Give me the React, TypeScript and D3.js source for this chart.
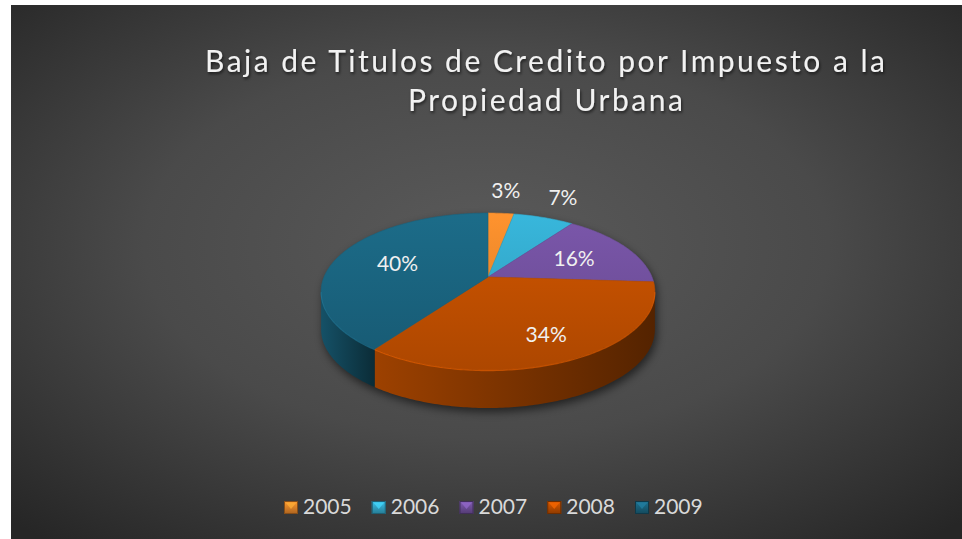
import React from "react";
import * as d3 from "d3";

const categories = ["2005", "2006", "2007", "2008", "2009"];
const values = [3, 7, 16, 34, 40];
const valueLabels = ["3%", "7%", "16%", "34%", "40%"];
const colors = ["#f58d2c", "#36b0d4", "#7654a4", "#c95300", "#1b6884"];
const titleLines = ["Baja de Titulos de Credito por Impuesto a la", "Propiedad Urbana"];

const W = 962;
const H = 539;
const CX = 488;
const CY = 277;
const RX = 164;
const RY = 75.8;
const E = 0.185;
const DEPTH = 38;
const TH_R = Math.acos(-E);
const TH_L = 2 * Math.PI - Math.acos(-E);

function proj(theta: number, r: number, dy: number): [number, number] {
  const u = r * Math.sin(theta);
  const w = r * Math.cos(theta);
  const p = 1 / (1 + E * w);
  return [CX + RX * u * p, CY - RY * w * p + dy];
}

function arcPts(a0: number, a1: number, r: number, dy: number): [number, number][] {
  const n = Math.max(2, Math.ceil((a1 - a0) / 0.015));
  const pts: [number, number][] = [];
  for (let i = 0; i <= n; i++) pts.push(proj(a0 + ((a1 - a0) * i) / n, r, dy));
  return pts;
}

const line = d3.line();

function shade(c: string, k: number) {
  const col = d3.rgb(c);
  return d3.rgb(col.r * k, col.g * k, col.b * k).formatHex();
}

export default function App() {
  const arcs = d3.pie<number>().sort(null).startAngle(0).endAngle(2 * Math.PI)(values);
  const total = d3.sum(values);
  const legendX = d3.scaleLinear().domain([0, categories.length - 1]).range([284, 635]);

  const shadowPts = [...arcPts(TH_R, TH_L, 1, DEPTH), ...arcPts(TH_L, TH_R + 2 * Math.PI, 1, 0)];

  return (
    <svg
      width={W}
      height={H}
      style={{ position: "absolute", left: 0, top: 0, background: "#ffffff" }}
    >
      <defs>
        <radialGradient id="bg" cx="0.5" cy="0.45" r="0.72">
          <stop offset="0" stopColor="#5a5a5a" />
          <stop offset="0.5" stopColor="#4a4a4a" />
          <stop offset="1" stopColor="#262626" />
        </radialGradient>
        <filter id="blur" x="-20%" y="-20%" width="140%" height="160%">
          <feGaussianBlur stdDeviation="4" />
        </filter>
        <filter id="tshadow" x="-5%" y="-30%" width="110%" height="160%">
          <feDropShadow dx="1" dy="2" stdDeviation="1.5" floodColor="#000" floodOpacity="0.6" />
        </filter>
        {arcs.map((a, i) => {
          const s0 = Math.max(a.startAngle, TH_R);
          const s1 = Math.min(a.endAngle, TH_L);
          const xs = s1 > s0 ? [proj(s0, 1, 0)[0], proj(s1, 1, 0)[0]] : [CX - RX, CX + RX];
          return (
            <linearGradient
              key={"sg" + i}
              id={"side" + i}
              gradientUnits="userSpaceOnUse"
              x1={Math.min(...xs)}
              x2={Math.max(...xs)}
              y1={0}
              y2={0}
            >
              <stop offset="0" stopColor={shade(colors[i], 0.78)} />
              <stop offset="1" stopColor={shade(colors[i], 0.42)} />
            </linearGradient>
          );
        })}
        {arcs.map((a, i) => (
          <linearGradient
            key={"tg" + i}
            id={"top" + i}
            gradientUnits="userSpaceOnUse"
            x1={0}
            x2={0}
            y1={CY - RY / (1 + E)}
            y2={CY + RY / (1 - E)}
          >
            <stop offset="0" stopColor={shade(colors[i], 1.04)} />
            <stop offset="1" stopColor={shade(colors[i], 0.86)} />
          </linearGradient>
        ))}
        {categories.map((c, i) => (
          <linearGradient key={"lg" + i} id={"leg" + i} x1="0" x2="0" y1="0" y2="1">
            <stop offset="0" stopColor={shade(colors[i], 1.1)} />
            <stop offset="1" stopColor={shade(colors[i], 0.7)} />
          </linearGradient>
        ))}
      </defs>

      <rect x={11} y={5} width={W - 11} height={H - 5} fill="url(#bg)" />

      {/* title */}
      <g
        fill="#f2f2f2"
        fontFamily="Lato, 'Open Sans', sans-serif"
        fontSize={30}
        filter="url(#tshadow)"
      >
        <text x={205} y={72} textLength={680} lengthAdjust="spacing">
          {titleLines[0]}
        </text>
        <text x={408} y={111} textLength={275} lengthAdjust="spacing">
          {titleLines[1]}
        </text>
      </g>

      {/* shadow */}
      <path
        d={(line(shadowPts) || "") + "Z"}
        transform="translate(2,4)"
        fill="#000"
        opacity={0.55}
        filter="url(#blur)"
      />

      {/* sides */}
      {arcs.map((a, i) => {
        const s0 = Math.max(a.startAngle, TH_R);
        const s1 = Math.min(a.endAngle, TH_L);
        if (s1 <= s0) return null;
        const pts = [...arcPts(s0, s1, 1, 0), ...arcPts(s0, s1, 1, DEPTH).reverse()];
        return <path key={"side" + i} d={(line(pts) || "") + "Z"} fill={`url(#side${i})`} />;
      })}

      {/* tops */}
      {arcs.map((a, i) => {
        const pts = [proj(0, 0, 0), ...arcPts(a.startAngle, a.endAngle, 1, 0)];
        return (
          <path
            key={"top" + i}
            d={(line(pts) || "") + "Z"}
            fill={`url(#top${i})`}
            stroke={shade(colors[i], 0.95)}
            strokeWidth={0.6}
            strokeLinejoin="round"
          />
        );
      })}

      {/* front rim highlight */}
      {arcs.map((a, i) => {
        const s0 = Math.max(a.startAngle, TH_R);
        const s1 = Math.min(a.endAngle, TH_L);
        if (s1 <= s0) return null;
        return (
          <path
            key={"rim" + i}
            d={line(arcPts(s0, s1, 1, 0.6)) || ""}
            fill="none"
            stroke={shade(colors[i], 1.25)}
            strokeOpacity={0.5}
            strokeWidth={1.2}
          />
        );
      })}

      {/* labels */}
      <g fill="#f0f0f0" fontFamily="Lato, 'Open Sans', sans-serif" fontSize={21} textAnchor="middle">
        {arcs.map((a, i) => {
          const mid = (a.startAngle + a.endAngle) / 2;
          const small = values[i] / total < 0.1;
          const c = Math.cos(mid);
          const r = small ? 1.15 : 0.58 + 0.28 * Math.max(0, -c);
          const x = CX + RX * Math.sin(mid) * r;
          const y = CY - RY * c * r;
          return (
            <text key={"lbl" + i} x={x} y={y} dy="0.36em">
              {valueLabels[i]}
            </text>
          );
        })}
      </g>

      {/* legend */}
      <g fontFamily="Lato, 'Open Sans', sans-serif" fontSize={21} fill="#d9d9d9">
        {categories.map((c, i) => {
          const x = legendX(i);
          const y = 501;
          return (
            <g key={"leg" + i}>
              <rect x={x} y={y} width={14} height={13} fill={`url(#leg${i})`} />
              <polygon
                points={`${x + 1.5},${y + 1.5} ${x + 12.5},${y + 1.5} ${x + 7},${y + 8}`}
                fill={shade(colors[i], 1.25)}
                opacity={0.7}
              />
              <rect
                x={x + 0.5}
                y={y + 0.5}
                width={13}
                height={12}
                fill="none"
                stroke={shade(colors[i], 0.55)}
                strokeWidth={1}
              />
              <text x={x + 19} y={514}>
                {c}
              </text>
            </g>
          );
        })}
      </g>
    </svg>
  );
}
